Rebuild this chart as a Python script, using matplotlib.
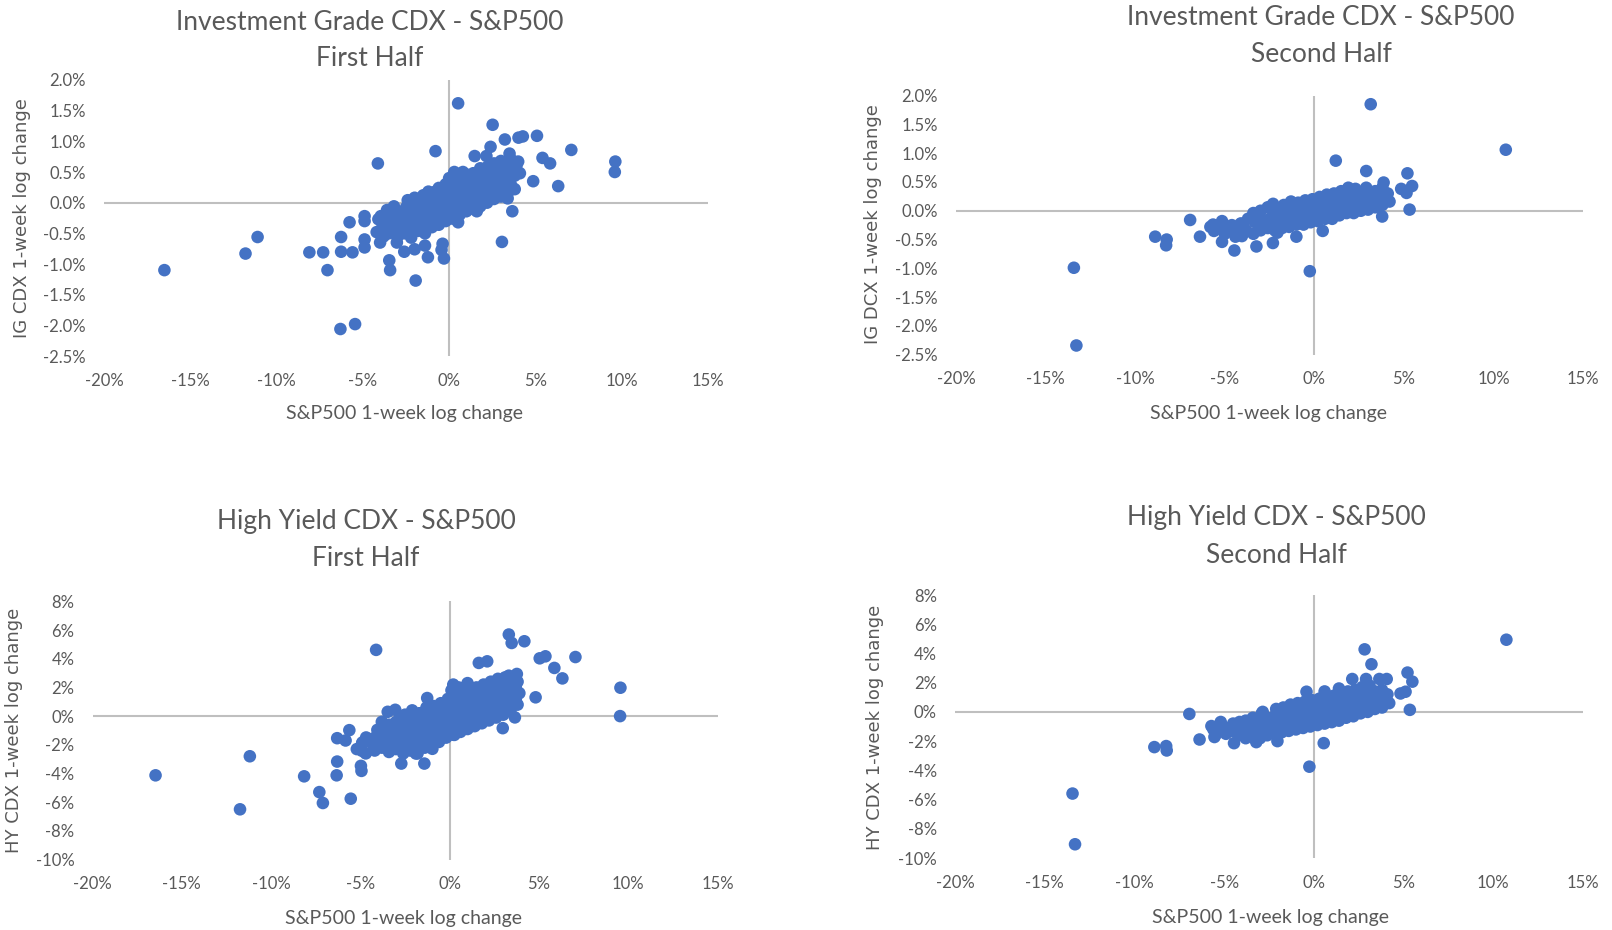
import numpy as np
import matplotlib
matplotlib.use("Agg")
import matplotlib.pyplot as plt
from matplotlib.ticker import FuncFormatter

plt.rcParams['axes.unicode_minus'] = False

# --- weekly log changes, in percent (S&P500 x, CDX y) ---
ig1_points = [
    (-16.5, -1.10), (-11.8, -0.83), (-11.1, -0.56), (-8.1, -0.81), (-7.3, -0.81), (-7.05, -1.10),
    (-6.3, -2.06), (-5.45, -1.98), (-6.26, -0.56), (-6.26, -0.80), (-5.6, -0.81), (-5.77, -0.32),
    (-4.9, -0.22), (-4.9, -0.30), (-4.9, -0.60), (-4.9, -0.73), (-4.13, 0.64), (-3.96, -0.22),
    (-4.0, -0.65), (-3.47, -0.94), (-3.42, -1.10), (-3.03, -0.65), (-2.6, -0.80), (-1.94, -1.27),
    (-2.0, -0.76), (-1.4, -0.70), (-1.23, -0.89), (-0.79, 0.84), (-0.38, -0.67), (-0.44, -0.77),
    (-0.3, -0.91), (0.52, 1.62), (2.52, 1.27), (3.23, 1.03), (4.02, 1.06), (4.27, 1.08),
    (5.09, 1.09), (7.08, 0.86), (9.63, 0.67), (9.6, 0.50), (5.41, 0.73), (5.85, 0.64),
    (6.32, 0.27), (4.87, 0.35), (3.66, -0.14), (3.06, -0.64), (2.4, 0.91), (1.48, 0.76),
    (2.16, 0.76), (3.5, 0.80), (4.0, 0.67), (3.39, 0.07), (0.52, -0.32), (1.6, -0.14),
    (-4.2, -0.48), (-4.1, -0.27), (-3.8, -0.55), (-3.7, -0.36), (-3.6, -0.12), (-3.4, -0.44),
    (-3.3, -0.24), (-3.2, -0.06), (-3.0, -0.56), (-2.9, -0.34), (-2.8, -0.16), (-2.6, -0.50),
    (-2.5, -0.30), (-2.5, -0.08), (-2.4, 0.04), (-2.2, -0.57), (-2.1, -0.36), (-2.0, -0.15),
    (-2.0, 0.08), (-1.8, -0.46), (-1.7, -0.26), (-1.7, -0.04), (-1.5, 0.12), (-1.4, -0.50),
    (-1.3, -0.30), (-1.3, -0.10), (-1.2, 0.18), (-1.0, -0.40), (-0.9, -0.20), (-1.0, 0.02),
    (-0.9, 0.14), (-0.6, -0.36), (-0.6, -0.14), (-0.5, 0.06), (-0.6, 0.24), (-0.2, -0.30),
    (-0.2, -0.10), (-0.1, 0.10), (-0.2, 0.30), (0.2, -0.26), (0.2, -0.04), (0.3, 0.16),
    (0.2, 0.36), (0.3, 0.50), (0.6, -0.20), (0.7, 0.00), (0.6, 0.20), (0.7, 0.40),
    (1.0, -0.14), (1.0, 0.06), (1.1, 0.26), (1.0, 0.46), (1.4, -0.10), (1.4, 0.10),
    (1.5, 0.30), (1.4, 0.48), (1.8, -0.06), (1.8, 0.16), (1.9, 0.36), (1.8, 0.56),
    (2.2, 0.00), (2.2, 0.20), (2.3, 0.40), (2.2, 0.58), (2.6, 0.06), (2.6, 0.26),
    (2.7, 0.46), (2.6, 0.64), (3.0, 0.10), (3.0, 0.30), (3.1, 0.50), (3.0, 0.68),
    (3.4, 0.16), (3.4, 0.36), (3.5, 0.56), (3.8, 0.22), (3.8, 0.44), (3.9, 0.60), (4.1, 0.48),
    (-3.9, -0.42), (-3.5, -0.50), (-3.5, -0.30), (-3.1, -0.45), (-3.1, -0.25), (-2.7, -0.40),
    (-2.7, -0.20), (-2.3, -0.46), (-2.3, -0.25), (-2.3, -0.05), (-1.9, -0.35), (-1.9, -0.15),
    (-1.9, 0.02), (-1.5, -0.40), (-1.5, -0.20), (-1.5, 0.00), (-1.1, -0.30), (-1.1, -0.10),
    (-1.1, 0.08), (-0.8, -0.26), (-0.8, -0.06), (-0.8, 0.18), (-0.4, -0.24), (-0.4, -0.02),
    (-0.4, 0.18), (0.0, -0.18), (0.0, 0.02), (0.0, 0.22), (0.0, 0.40), (0.4, -0.12),
    (0.4, 0.08), (0.4, 0.28), (0.8, -0.10), (0.8, 0.10), (0.8, 0.30), (0.8, 0.50),
    (1.2, -0.04), (1.2, 0.16), (1.2, 0.36), (1.6, 0.00), (1.6, 0.22), (1.6, 0.42),
    (2.0, 0.06), (2.0, 0.26), (2.0, 0.46), (2.4, 0.10), (2.4, 0.32), (2.4, 0.52),
    (2.8, 0.16), (2.8, 0.36), (2.8, 0.56), (3.2, 0.22), (3.2, 0.42), (3.2, 0.62),
    (3.6, 0.28), (3.6, 0.46), (3.6, 0.70),
]

ig2_points = [
    (3.15, 1.85), (10.69, 1.06), (1.2, 0.87), (2.9, 0.69), (5.2, 0.65), (5.46, 0.43),
    (4.85, 0.38), (5.15, 0.31), (3.87, 0.49), (5.32, 0.02), (3.79, -0.10), (-13.42, -0.99),
    (-13.28, -2.34), (-0.25, -1.05), (-8.88, -0.45), (-8.24, -0.50), (-8.27, -0.60), (-6.93, -0.16),
    (-6.38, -0.45), (-5.65, -0.24), (-5.6, -0.35), (-5.15, -0.18), (-5.15, -0.54), (-4.46, -0.69),
    (-4.85, -0.33), (-4.1, -0.22), (-4.04, -0.44), (-3.23, -0.62), (-2.31, -0.56), (-1.0, -0.45),
    (0.47, -0.35), (-2.06, -0.38),
    (-5.8, -0.28), (-5.3, -0.30), (-5.0, -0.40), (-4.6, -0.25), (-4.4, -0.45), (-4.2, -0.30),
    (-3.8, -0.34), (-3.7, -0.14), (-3.4, -0.40), (-3.3, -0.20), (-3.4, -0.04), (-3.0, -0.34),
    (-2.9, -0.16), (-3.0, 0.00), (-2.6, -0.30), (-2.5, -0.14), (-2.6, 0.06), (-2.2, -0.34),
    (-2.1, -0.20), (-2.2, -0.04), (-2.3, 0.12), (-1.8, -0.30), (-1.7, -0.14), (-1.8, 0.00),
    (-1.7, 0.10), (-1.4, -0.28), (-1.3, -0.14), (-1.4, 0.02), (-1.3, 0.16), (-1.0, -0.24),
    (-0.9, -0.10), (-1.0, 0.04), (-0.9, 0.14), (-0.6, -0.24), (-0.5, -0.10), (-0.6, 0.06),
    (-0.5, 0.18), (-0.2, -0.20), (-0.1, -0.04), (-0.2, 0.10), (-0.1, 0.20), (0.2, -0.18),
    (0.3, -0.04), (0.2, 0.10), (0.3, 0.24), (0.6, -0.14), (0.7, 0.00), (0.6, 0.14),
    (0.7, 0.28), (1.0, -0.14), (1.1, 0.02), (1.0, 0.16), (1.1, 0.30), (1.4, -0.08),
    (1.5, 0.06), (1.4, 0.20), (1.5, 0.34), (1.8, -0.04), (1.9, 0.10), (1.8, 0.24),
    (1.9, 0.40), (2.2, -0.04), (2.3, 0.10), (2.2, 0.26), (2.3, 0.38), (2.6, 0.00),
    (2.7, 0.14), (2.6, 0.30), (3.0, 0.02), (3.1, 0.16), (3.0, 0.30), (2.9, 0.40),
    (3.4, 0.06), (3.5, 0.20), (3.4, 0.34), (3.8, 0.10), (3.9, 0.26), (3.8, 0.40),
    (4.2, 0.16), (4.1, 0.30),
]

hy1_points = [
    (-16.47, -4.13), (-11.74, -6.5), (-11.19, -2.8), (-8.15, -4.2), (-7.3, -5.3), (-7.1, -6.06),
    (-6.33, -4.13), (-6.3, -3.17), (-6.3, -1.54), (-5.83, -1.70), (-5.62, -0.98), (-5.54, -5.76),
    (-4.97, -3.47), (-4.94, -3.82), (-4.91, -2.42), (-4.89, -1.84), (-4.68, -1.49), (-4.12, 4.62),
    (-4.05, -0.96), (-3.47, 0.30), (-3.05, 0.44), (-2.71, -3.31), (-1.42, -3.31), (-1.89, -2.61),
    (-0.97, -2.28), (-1.26, 1.26), (3.31, 5.69), (3.47, 5.1), (4.18, 5.22), (5.04, 4.03),
    (5.36, 4.17), (5.86, 3.36), (6.31, 2.63), (7.04, 4.12), (9.56, 1.98), (9.54, 0.0),
    (4.81, 1.31), (1.63, 3.71), (2.1, 3.82), (3.65, -0.09), (2.97, -0.84), (0.26, -1.31),
    (3.76, 2.94), (3.31, 2.82),
    (-5.2, -2.3), (-4.9, -1.9), (-4.7, -2.6), (-4.5, -1.6), (-4.3, -2.0),
    (-4.2, -2.4), (-4.1, -1.4), (-3.8, -2.2), (-3.7, -1.2), (-3.8, -0.4), (-3.4, -2.5),
    (-3.3, -1.5), (-3.4, -0.6), (-3.0, -2.3), (-2.9, -1.3), (-3.0, -0.4), (-2.6, -2.6),
    (-2.5, -1.6), (-2.6, -0.7), (-2.5, 0.1), (-2.2, -2.4), (-2.1, -1.4), (-2.2, -0.5),
    (-2.1, 0.4), (-1.8, -2.6), (-1.7, -1.7), (-1.8, -0.8), (-1.7, 0.2), (-1.4, -2.2),
    (-1.3, -1.3), (-1.4, -0.3), (-1.3, 0.6), (-1.0, -2.0), (-0.9, -1.1), (-1.0, -0.2),
    (-0.9, 0.7), (-0.6, -1.8), (-0.5, -0.9), (-0.6, 0.0), (-0.5, 0.9), (-0.2, -1.5),
    (-0.1, -0.6), (-0.2, 0.3), (-0.1, 1.2), (0.2, -1.3), (0.3, -0.4), (0.2, 0.5),
    (0.3, 1.4), (0.2, 2.2), (0.6, -1.1), (0.7, -0.2), (0.6, 0.7), (0.7, 1.6),
    (1.0, -0.9), (1.1, 0.0), (1.0, 0.9), (1.1, 1.8), (1.0, 2.3), (1.4, -0.7),
    (1.5, 0.2), (1.4, 1.1), (1.5, 2.0), (1.8, -0.5), (1.9, 0.4), (1.8, 1.3),
    (1.9, 2.2), (2.2, -0.3), (2.3, 0.6), (2.2, 1.5), (2.3, 2.4), (2.6, -0.1),
    (2.7, 0.8), (2.6, 1.7), (2.7, 2.6), (3.0, 0.1), (3.1, 1.0), (3.0, 1.9),
    (3.1, 2.7), (3.4, 0.4), (3.5, 1.2), (3.4, 2.1), (3.8, 0.8), (3.9, 1.6), (3.8, 2.4),
    (-3.9, -1.7), (-3.5, -2.0), (-3.5, -1.0), (-3.1, -1.8), (-3.1, -0.9), (-2.7, -2.1),
    (-2.7, -1.1), (-2.7, -0.2), (-2.3, -1.9), (-2.3, -0.9), (-2.3, 0.0), (-1.9, -2.1),
    (-1.9, -1.2), (-1.9, -0.3), (-1.5, -1.7), (-1.5, -0.8), (-1.5, 0.2), (-1.1, -1.5),
    (-1.1, -0.6), (-1.1, 0.3), (-0.7, -1.3), (-0.7, -0.4), (-0.7, 0.5), (-0.3, -1.0),
    (-0.3, -0.1), (-0.3, 0.8), (0.1, -0.8), (0.1, 0.1), (0.1, 1.0), (0.1, 1.8),
    (0.5, -0.6), (0.5, 0.3), (0.5, 1.2), (0.5, 2.0), (0.9, -0.4), (0.9, 0.5),
    (0.9, 1.4), (1.3, -0.2), (1.3, 0.7), (1.3, 1.6), (1.7, 0.0), (1.7, 0.9),
    (1.7, 1.8), (2.1, 0.2), (2.1, 1.1), (2.1, 2.0), (2.5, 0.4), (2.5, 1.3),
    (2.5, 2.2), (2.9, 0.6), (2.9, 1.5), (2.9, 2.3), (3.3, 0.8), (3.3, 1.7),
    (3.3, 2.5), (3.7, 1.2), (3.7, 2.0),
]

hy2_points = [
    (10.73, 4.94), (2.83, 4.28), (3.21, 3.26), (5.22, 2.69), (5.49, 2.07), (5.11, 1.38),
    (4.83, 1.26), (5.35, 0.14), (2.14, 2.25), (2.91, 2.25), (3.65, 2.25), (4.06, 2.25),
    (-13.45, -5.59), (-13.31, -9.06), (-0.25, -3.75), (0.55, -2.14), (-8.89, -2.41), (-8.23, -2.34),
    (-8.2, -2.64), (-6.94, -0.14), (-6.37, -1.89), (-5.71, -0.97), (-5.54, -1.72), (-5.19, -0.69),
    (-4.86, -1.15), (-4.45, -2.14), (-4.14, -0.69), (-3.21, -2.07), (-2.03, -2.0), (-2.85, 0.0),
    (-0.41, 1.38),
    (-5.6, -1.2), (-5.5, -1.6), (-5.0, -1.1), (-4.9, -1.5), (-4.6, -1.3), (-4.5, -0.8),
    (-4.2, -1.6), (-4.1, -1.0), (-3.8, -1.8), (-3.7, -1.2), (-3.8, -0.6), (-3.4, -1.6),
    (-3.3, -1.0), (-3.4, -0.4), (-3.0, -1.8), (-2.9, -1.2), (-3.0, -0.6), (-2.9, -0.1),
    (-2.6, -1.6), (-2.5, -1.0), (-2.6, -0.4), (-2.2, -1.5), (-2.1, -0.9), (-2.2, -0.3),
    (-2.1, 0.2), (-1.8, -1.4), (-1.7, -0.8), (-1.8, -0.2), (-1.7, 0.3), (-1.4, -1.3),
    (-1.3, -0.7), (-1.4, -0.1), (-1.3, 0.5), (-1.0, -1.2), (-0.9, -0.6), (-1.0, 0.0),
    (-0.9, 0.6), (-0.6, -1.1), (-0.5, -0.5), (-0.6, 0.1), (-0.5, 0.7), (-0.2, -1.0),
    (-0.1, -0.4), (-0.2, 0.2), (-0.1, 0.8), (0.2, -0.9), (0.3, -0.3), (0.2, 0.3),
    (0.3, 0.9), (0.6, -0.8), (0.7, -0.2), (0.6, 0.4), (0.7, 1.0), (0.6, 1.4),
    (1.0, -0.7), (1.1, -0.1), (1.0, 0.5), (1.1, 1.1), (1.4, -0.6), (1.5, 0.0),
    (1.4, 0.6), (1.5, 1.2), (1.4, 1.6), (1.8, -0.4), (1.9, 0.2), (1.8, 0.8),
    (1.9, 1.4), (2.2, -0.3), (2.3, 0.3), (2.2, 0.9), (2.3, 1.5), (2.6, -0.1),
    (2.7, 0.5), (2.6, 1.1), (2.7, 1.7), (3.0, 0.0), (3.1, 0.6), (3.0, 1.2),
    (3.1, 1.8), (3.4, 0.2), (3.5, 0.8), (3.4, 1.4), (3.8, 0.3), (3.9, 0.9),
    (3.8, 1.5), (4.2, 0.6), (4.1, 1.2),
]

ig_yticks = [-2.5, -2.0, -1.5, -1.0, -0.5, 0.0, 0.5, 1.0, 1.5, 2.0]
hy_yticks = [-10, -8, -6, -4, -2, 0, 2, 4, 6, 8]
x_ticks = [-20, -15, -10, -5, 0, 5, 10, 15]

W, H = 1612, 930
BLUE = '#4472C4'
GREY_TXT = '#595959'
AXIS_CLR = '#BFBFBF'
FONT = 'Lato'

fig = plt.figure(figsize=(W / 100, H / 100), dpi=100)


def px_rect(x0, x1, ytop, ybot):
    return [x0 / W, 1 - ybot / H, (x1 - x0) / W, (ybot - ytop) / H]


panels = [
    dict(pts=ig1_points, rect=px_rect(104, 708, 80, 356), yt=ig_yticks, yfmt='{:.1f}%',
         title=("Investment Grade CDX - S&P500", "First Half"), tpos=(370, 22.6, 58.6),
         xlab=(405, 413), ylab=("IG CDX 1-week log change", 22, 218)),
    dict(pts=ig2_points, rect=px_rect(956, 1583, 95.6, 354.7), yt=ig_yticks, yfmt='{:.1f}%',
         title=("Investment Grade CDX - S&P500", "Second Half"), tpos=(1321, 17.5, 54.5),
         xlab=(1269, 413), ylab=("IG DCX 1-week log change", 873, 224)),
    dict(pts=hy1_points, rect=px_rect(92.5, 717.6, 601.4, 859.5), yt=hy_yticks, yfmt='{:.0f}%',
         title=("High Yield CDX - S&P500", "First Half"), tpos=(366, 521, 558),
         xlab=(404, 918), ylab=("HY CDX 1-week log change", 14, 730)),
    dict(pts=hy2_points, rect=px_rect(955, 1583, 595, 858), yt=hy_yticks, yfmt='{:.0f}%',
         title=("High Yield CDX - S&P500", "Second Half"), tpos=(1276, 518, 555),
         xlab=(1271, 917), ylab=("HY CDX 1-week log change", 875, 727)),
]

for p in panels:
    ax = fig.add_axes(p['rect'])
    xs = np.array([a for a, b in p['pts']])
    ys = np.array([b for a, b in p['pts']])
    ax.axhline(0, color=AXIS_CLR, lw=1.5, zorder=1)
    ax.axvline(0, color=AXIS_CLR, lw=1.5, zorder=1)
    ax.scatter(xs, ys, s=82, color=BLUE, edgecolors='none', zorder=3)
    ax.set_xlim(-20, 15)
    ax.set_ylim(p['yt'][0], p['yt'][-1])
    ax.set_xticks(x_ticks)
    ax.set_yticks(p['yt'])
    fmt = p['yfmt']
    ax.xaxis.set_major_formatter(FuncFormatter(lambda v, pos: '{:.0f}%'.format(v)))
    ax.yaxis.set_major_formatter(FuncFormatter(lambda v, pos, f=fmt: f.format(v)))
    for s in ax.spines.values():
        s.set_visible(False)
    ax.tick_params(length=0, labelsize=12, labelcolor=GREY_TXT)
    ax.tick_params(axis='x', pad=12)
    ax.tick_params(axis='y', pad=13)
    for lab in ax.get_xticklabels() + ax.get_yticklabels():
        lab.set_fontfamily(FONT)
    ax.patch.set_alpha(0)

    tx, ty1, ty2 = p['tpos']
    fig.text(tx / W, 1 - ty1 / H, p['title'][0], ha='center', va='center',
             fontsize=19, color=GREY_TXT, family=FONT)
    fig.text(tx / W, 1 - ty2 / H, p['title'][1], ha='center', va='center',
             fontsize=19, color=GREY_TXT, family=FONT)
    fig.text(p['xlab'][0] / W, 1 - p['xlab'][1] / H, "S&P500 1-week log change",
             ha='center', va='center', fontsize=14, color=GREY_TXT, family=FONT)
    lt, lx, ly = p['ylab']
    fig.text(lx / W, 1 - ly / H, lt, ha='center', va='center', rotation=90,
             fontsize=13, color=GREY_TXT, family='DejaVu Sans')

fig.savefig('out.png', dpi=100, facecolor='white')
